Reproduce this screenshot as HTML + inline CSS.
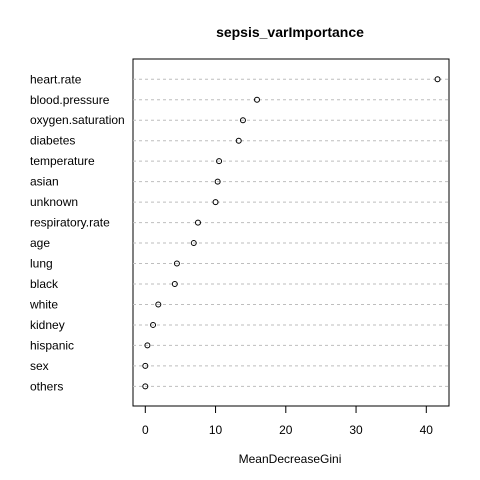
<!DOCTYPE html>
<html><head><meta charset="utf-8"><style>body{margin:0;background:#fff}svg{display:block;font-family:"Liberation Sans",Arial,sans-serif}</style></head>
<body>
<svg id="c" width="480" height="480">
<text x="290" y="37" text-anchor="middle" font-size="14" font-weight="bold">sepsis_varImportance</text>
<text x="290" y="463" text-anchor="middle" font-size="12">MeanDecreaseGini</text>
<rect x="133" y="59" width="316" height="347" fill="none" stroke="#000"/>
<g id="rows"></g><g id="xaxis"></g>
</svg>
<script>
const categories=["heart.rate","blood.pressure","oxygen.saturation","diabetes","temperature","asian","unknown","respiratory.rate","age","lung","black","white","kidney","hispanic","sex","others"];
const values=[41.6,15.9,13.9,13.3,10.5,10.3,10.0,7.5,6.9,4.5,4.2,1.85,1.1,0.3,0,0];
const ticks=[0,10,20,30,40];
const NS="http://www.w3.org/2000/svg";
const xs=v=>145.3+v*7.025;
const ys=i=>79.3+i*20.47;
function mk(t,a,p){const e=document.createElementNS(NS,t);for(const k in a)e.setAttribute(k,a[k]);p.appendChild(e);return e;}
const rows=document.getElementById('rows');
categories.forEach((c,i)=>{
 const y=ys(i);
 const l=mk('line',{x1:133,x2:449,y1:y,y2:y,stroke:'#bebebe','stroke-dasharray':'3,3'},rows);
 
 
 const t=mk('text',{x:30,y:y+4,'font-size':12},rows);t.textContent=c;
 
 
 const d=mk('circle',{cx:xs(values[i]),cy:y,r:2.5,fill:'none',stroke:'#000','stroke-width':1},rows);
 
 
});
const ax=document.getElementById('xaxis');
const al=mk('line',{x1:xs(ticks[0]),x2:xs(ticks[ticks.length-1]),y1:406,y2:406,stroke:'#000'},ax);


ticks.forEach(v=>{
 const tl=mk('line',{x1:xs(v),x2:xs(v),y1:406,y2:413,stroke:'#000'},ax);
 
 
 const tt=mk('text',{x:xs(v),y:434,'text-anchor':'middle','font-size':12},ax);tt.textContent=v;
 
 
});
</script>
</body></html>
